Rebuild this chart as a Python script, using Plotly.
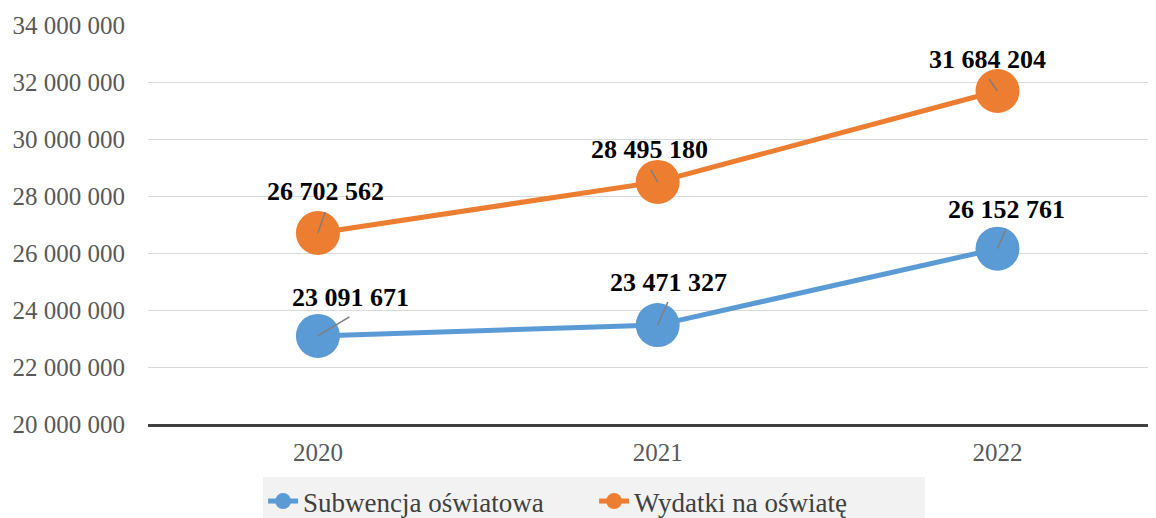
import plotly.graph_objects as go

years = ["2020", "2021", "2022"]
subwencja = [23091671, 23471327, 26152761]
wydatki = [26702562, 28495180, 31684204]
series_names = ["Subwencja oświatowa", "Wydatki na oświatę"]
y_ticks = [20000000, 22000000, 24000000, 26000000, 28000000, 30000000, 32000000, 34000000]

# leader-line offsets (pixels) for each data label
sub_offsets = [(33, -20), (11, -25), (9, -21)]
wyd_offsets = [(8, -23), (-8, -14), (-10, -14)]

BLUE = "#5B9BD5"
ORANGE = "#ED7D31"
FONT = "Liberation Serif"


def fmt(v):
    return f"{v:,}".replace(",", " ")


fig = go.Figure()
fig.add_trace(go.Scatter(
    x=years, y=subwencja, name=series_names[0], mode="lines+markers",
    line=dict(color=BLUE, width=5), marker=dict(size=44, color=BLUE),
))
fig.add_trace(go.Scatter(
    x=years, y=wydatki, name=series_names[1], mode="lines+markers",
    line=dict(color=ORANGE, width=5), marker=dict(size=44, color=ORANGE),
))

annotations = []
for vals, offs in ((subwencja, sub_offsets), (wydatki, wyd_offsets)):
    for i, (v, (dx, dy)) in enumerate(zip(vals, offs)):
        annotations.append(dict(
            x=i, y=v, xref="x", yref="y", text=" ", showarrow=True,
            ax=dx, ay=dy, arrowhead=0, arrowwidth=1.5, arrowcolor="#7f7f7f",
            font=dict(size=1),
        ))
        annotations.append(dict(
            x=i, y=v, xref="x", yref="y", text="<b>" + fmt(v) + "</b>",
            showarrow=False, xshift=dx, yshift=18 - dy,
            font=dict(family=FONT, size=26, color="#000000"),
        ))

fig.update_layout(
    width=1156, height=518,
    margin=dict(l=140, r=0, t=17, b=102, autoexpand=False),
    paper_bgcolor="white", plot_bgcolor="white",
    separators=". ",
    font=dict(family=FONT, size=25, color="#595959"),
    showlegend=True,
    legend=dict(
        orientation="h", xref="container", yref="container",
        x=0.507, xanchor="center", y=0, yanchor="bottom",
        bgcolor="#f2f2f2", font=dict(family=FONT, size=27, color="#404040"),
        entrywidth=286, entrywidthmode="pixels",
    ),
    annotations=annotations,
)
fig.update_xaxes(
    type="category", range=[-0.5, 2.49], showgrid=False, automargin=False,
    showline=True, linecolor="#404040", linewidth=3,
    ticks="", tickfont=dict(family=FONT, size=25, color="#595959"),
    ticklabelstandoff=4,
)
fig.update_yaxes(
    range=[20000000, 34000000], tickvals=y_ticks, tickformat=",d",
    showgrid=True, gridcolor="#d9d9d9", gridwidth=1, automargin=False,
    zeroline=False, showline=False, ticks="",
    tickfont=dict(family=FONT, size=25, color="#595959"),
    ticklabelstandoff=22,
)

fig.write_html("out.html")
